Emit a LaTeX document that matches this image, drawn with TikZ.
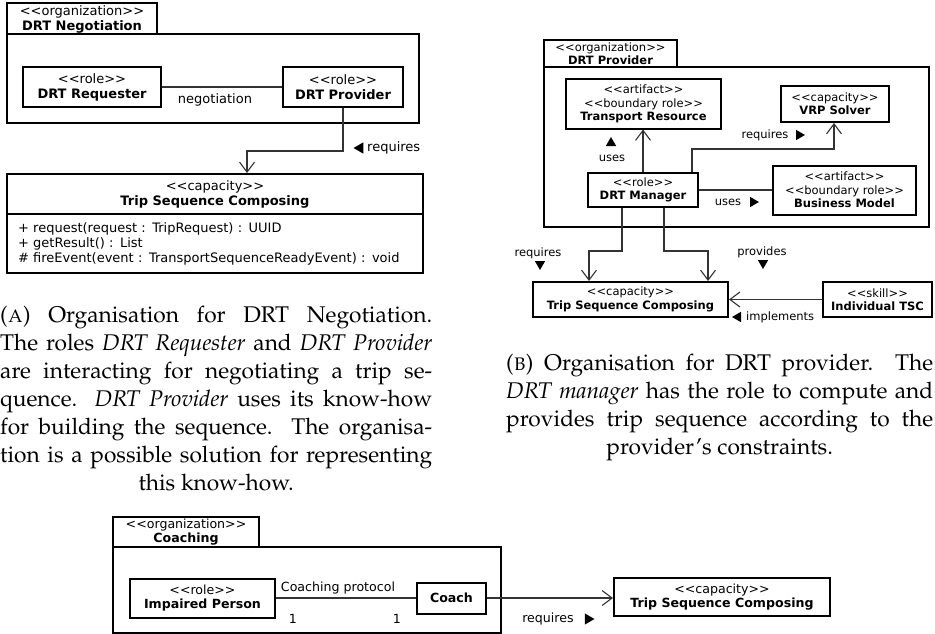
\documentclass[tikz,border=0pt]{standalone}
\usepackage[T1]{fontenc}
\usepackage{fontspec}
\usetikzlibrary{arrows.meta,shapes.geometric,calc}
\newfontfamily\umlfont{DejaVu Sans}
% diagram fonts, one size per panel
\newcommand\fa{\umlfont\fontsize{13}{15}\selectfont}
\newcommand\fb{\umlfont\fontsize{11.5}{13.3}\selectfont}
\newcommand\fc{\umlfont\fontsize{12.6}{14.6}\selectfont}
% caption font (Palatino)
\newcommand\capfont{\fontencoding{T1}\fontfamily{ppl}\fontsize{22.7}{28}\selectfont}
\tikzset{
  box/.style={draw=black, line width=2pt, align=center, inner sep=0pt},
  conn/.style={draw=black!80, line width=1.1pt},
  arr/.style={conn, -{Straight Barb[length=10pt,width=15pt]}},
  tri/.style={regular polygon, regular polygon sides=3, fill=black, draw=none,
              inner sep=0pt, minimum size=#1},
  tri/.default=13pt,
}
\begin{document}
\begin{tikzpicture}[x=1pt,y=-1pt]
\useasboundingbox (0,0) rectangle (935,634);

% ---------------- Organisation: DRT Negotiation ----------------
\begin{scope}[font=\fa]
\node[box, minimum width=412, minimum height=89] (frA) at (213,78.5) {};
\node[box, minimum width=150, minimum height=31] (tabA) at (82,19)
  {<<organization>>\\\textbf{DRT Negotiation}};
\node[box, minimum width=138, minimum height=40] (req) at (92,87)
  {<<role>>\\\textbf{DRT Requester}};
\node[box, minimum width=120, minimum height=40] (prov) at (343,87)
  {<<role>>\\\textbf{DRT Provider}};
\draw[conn] (req.east) -- (prov.west);
\node (negA) at (215,100) {negotiation};

\node[box, minimum width=416, minimum height=40] (capAt) at (215,194)
  {<<capacity>>\\\textbf{Trip Sequence Composing}};
\node[box, minimum width=416, minimum height=59, text width=394pt, align=left] (capAo) at (215,243.5)
  {+ request(request : TripRequest) : UUID\\+ getResult() : List\\\# fireEvent(event : TransportSequenceReadyEvent) : void};

\coordinate (kA) at (247,151);
\draw[arr] (prov.south) |- (kA) -- (kA |- capAt.north);
\node[tri, shape border rotate=90] (tA) at (360,148) {};
\node[anchor=west, inner sep=0pt] (reqA) at (367,148) {requires};
\end{scope}

% ---------------- Organisation: DRT Provider ----------------
\begin{scope}[font=\fb]
\node[box, minimum width=385, minimum height=160] (frB) at (736.5,147) {};
\node[box, minimum width=133, minimum height=27] (tabB) at (610.5,54)
  {<<organization>>\\\textbf{DRT Provider}};
\node[box, minimum width=155, minimum height=49] (tr) at (643.5,104)
  {<<artifact>>\\<<boundary role>>\\\textbf{Transport Resource}};
\node[box, minimum width=108, minimum height=36] (vrp) at (835,104)
  {<<capacity>>\\\textbf{VRP Solver}};
\node[box, minimum width=110, minimum height=34] (mgr) at (643,190)
  {<<role>>\\\textbf{DRT Manager}};
\node[box, minimum width=143, minimum height=49] (bm) at (844.5,190)
  {<<artifact>>\\<<boundary role>>\\\textbf{Business Model}};
\node[box, minimum width=195, minimum height=35] (tripB) at (630.5,299.5)
  {<<capacity>>\\\textbf{Trip Sequence Composing}};
\node[box, minimum width=109, minimum height=35] (tsc) at (877.5,299.5)
  {<<skill>>\\\textbf{Individual TSC}};

\draw[arr] (mgr.north) -- (mgr.north |- tr.south);
\coordinate (kB1) at (834,149);
\draw[arr] ([xshift=49pt]mgr.north) |- (kB1) -- (kB1 |- vrp.south);
\draw[conn] (mgr.east) -- (mgr.east -| bm.west);
\coordinate (kB2) at (589,251);
\draw[arr] ([xshift=-21pt]mgr.south) |- (kB2) -- (kB2 |- tripB.north);
\coordinate (kB3) at (708,251);
\draw[arr] ([xshift=21pt]mgr.south) |- (kB3) -- (kB3 |- tripB.north);
\draw[arr] (tsc.west) -- (tsc.west -| tripB.east);

\node[tri=12pt] (tB1) at (611,143) {};
\node (usesB1) at (612,158) {uses};
\node (reqB1) at (765,135) {requires};
\node[tri=12pt, shape border rotate=-90] (tB2) at (799,135) {};
\node (usesB2) at (728,202) {uses};
\node[tri=12pt, shape border rotate=-90] (tB3) at (753,202) {};
\node (reqB2) at (538,253) {requires};
\node[tri=12pt, shape border rotate=180] (tB4) at (540,264) {};
\node (provB) at (762,252) {provides};
\node[tri=12pt, shape border rotate=180] (tB5) at (763,263) {};
\node[tri=12pt, shape border rotate=90] (tB6) at (738,317) {};
\node[anchor=west, inner sep=0pt] (implB) at (746,317) {implements};
\end{scope}

% ---------------- Organisation: Coaching ----------------
\begin{scope}[font=\fc]
\node[box, minimum width=388, minimum height=86] (frC) at (307,590) {};
\node[box, minimum width=146, minimum height=30] (tabC) at (186,532)
  {<<organization>>\\\textbf{Coaching}};
\node[box, minimum width=145, minimum height=39] (ip) at (202.5,598)
  {<<role>>\\\textbf{Impaired Person}};
\node[box, minimum width=69, minimum height=31] (coach) at (451.5,598)
  {\textbf{Coach}};
\draw[conn] (ip.east) -- (ip.east -| coach.west);
\node (protC) at (338,588) {Coaching protocol};
\node (m1) at (293,619) {1};
\node (m2) at (397,619) {1};
\node[box, minimum width=216, minimum height=38] (capC) at (722,597)
  {<<capacity>>\\\textbf{Trip Sequence Composing}};
\draw[arr] (coach.east) -- (coach.east -| capC.west);
\node (reqC) at (548,619) {requires};
\node[tri, shape border rotate=-90] (tC) at (588,619) {};
\end{scope}

% ---------------- sub-captions ----------------
\node[anchor=base west, inner sep=0pt] (capA) at (0,322) {\capfont\parbox[t]{432pt}{%
\makebox[\linewidth][s]{(\textsc{a}) Organisation for DRT Negotiation.}\\
\makebox[\linewidth][s]{The roles \textit{DRT Requester} and \textit{DRT Provider}}\\
\makebox[\linewidth][s]{are interacting for negotiating a trip se-}\\
\makebox[\linewidth][s]{quence. \textit{DRT Provider} uses its know-how}\\
\makebox[\linewidth][s]{for building the sequence. The organisa-}\\
\makebox[\linewidth][s]{tion is a possible solution for representing}\\
\makebox[\linewidth]{this know-how.}}};
\node[anchor=base west, inner sep=0pt] (capB) at (506,370) {\capfont\parbox[t]{427pt}{%
\makebox[\linewidth][s]{(\textsc{b}) Organisation for DRT provider. The}\\
\makebox[\linewidth][s]{\textit{DRT manager} has the role to compute and}\\
\makebox[\linewidth][s]{provides trip sequence according to the}\\
\makebox[\linewidth]{provider's constraints.}}};
\end{tikzpicture}
\end{document}
